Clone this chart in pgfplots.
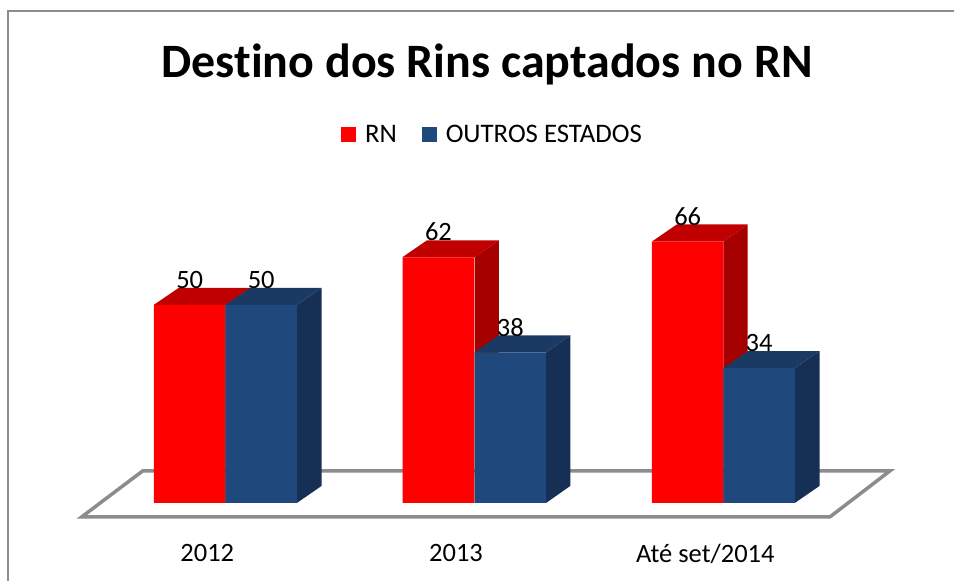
\documentclass[border=0pt]{standalone}
\usepackage{fontspec}
\setmainfont{Carlito}[Ligatures=NoCommon]
\usepackage{pgfplots}
\pgfplotsset{compat=1.18}
\definecolor{rnred}{HTML}{FF0000}
\definecolor{rntop}{HTML}{C00000}
\definecolor{rnside}{HTML}{A50000}
\definecolor{outblue}{HTML}{1F497D}
\definecolor{outtop}{HTML}{1B3A63}
\definecolor{outside}{HTML}{162F55}
\definecolor{floorgray}{HTML}{8C8C8C}

\begin{document}
\begin{tikzpicture}
\begin{axis}[
    x=1pt, y=3.965pt,
    xmin=0, xmax=955,
    ymin=-19.6, ymax=126.94,
    axis line style={draw=none},
    ytick=\empty,
    xtick={207.5,456.5,706},
    xticklabels={2012,2013,Até set/2014},
    major tick length=0pt,
    xticklabel style={font=\fontsize{26.5}{30}\selectfont, yshift=40pt},
    clip=false,
    /pgf/number format/assume math mode=true,
    title={\fontsize{48}{56}\selectfont\bfseries Destino dos Rins captados no RN},
    title style={at={(axis cs:487.5,109.1)}, anchor=center, inner sep=0pt},
    legend columns=2,
    legend style={at={(axis cs:493,92.9)}, anchor=center, draw=none, fill=none,
        inner sep=0pt, font=\fontsize{26.8}{30}\selectfont,
        /tikz/every even column/.append style={column sep=23pt}},
    legend image code/.code={\fill[#1] (0pt,-7.5pt) rectangle (15pt,7.5pt); \path (22pt,0pt);},
    legend cell align=left,
]

% floor
\addplot[fill=white, draw=floorgray, line width=3.5pt, forget plot] coordinates {
    (82,-3.5) (143,8.1) (891,8.1) (831,-3.5)
} -- cycle;

% RN sides and tops
\addplot[fill=rnside, draw=none, forget plot] coordinates {(225.7,0) (250.5,4.3) (250.5,54.3) (225.7,50)} -- cycle;
\addplot[fill=rntop, draw=none, forget plot] coordinates {(154,50) (179,54.3) (250.5,54.3) (225.7,50)} -- cycle;
\addplot[fill=rnside, draw=none, forget plot] coordinates {(475,0) (499.5,4.3) (499.5,66.3) (475,62)} -- cycle;
\addplot[fill=rntop, draw=none, forget plot] coordinates {(402.7,62) (427.5,66.3) (499.5,66.3) (475,62)} -- cycle;
\addplot[fill=rnside, draw=none, forget plot] coordinates {(724,0) (748.5,4.3) (748.5,70.3) (724,66)} -- cycle;
\addplot[fill=rntop, draw=none, forget plot] coordinates {(652.7,66) (677.5,70.3) (748.5,70.3) (724,66)} -- cycle;

% OUTROS ESTADOS sides and tops
\addplot[fill=outside, draw=none, forget plot] coordinates {(297.3,0) (322,4.3) (322,54.3) (297.3,50)} -- cycle;
\addplot[fill=outtop, draw=none, forget plot] coordinates {(225.7,50) (250.5,54.3) (322,54.3) (297.3,50)} -- cycle;
\addplot[fill=outside, draw=none, forget plot] coordinates {(546.7,0) (571,4.3) (571,42.3) (546.7,38)} -- cycle;
\addplot[fill=outtop, draw=none, forget plot] coordinates {(475,38) (499.5,42.3) (571,42.3) (546.7,38)} -- cycle;
\addplot[fill=outside, draw=none, forget plot] coordinates {(795.7,0) (820.5,4.3) (820.5,38.3) (795.7,34)} -- cycle;
\addplot[fill=outtop, draw=none, forget plot] coordinates {(724,34) (748.5,38.3) (820.5,38.3) (795.7,34)} -- cycle;

% front faces
\addplot[ybar, bar width=71.6pt, bar shift=0pt, fill=rnred, draw=none,
    nodes near coords={\pgfmathprintnumber{\pgfplotspointmeta}},
    every node near coord/.append style={font=\fontsize{26.5}{30}\selectfont, anchor=south, inner sep=0pt, yshift=16pt}]
    coordinates {(189.9,50) (438.9,62) (688.4,66)};
\addlegendentry{RN}
\addplot[ybar, bar width=71.6pt, bar shift=0pt, fill=outblue, draw=none,
    nodes near coords={\pgfmathprintnumber{\pgfplotspointmeta}},
    every node near coord/.append style={font=\fontsize{26.5}{30}\selectfont, anchor=south, inner sep=0pt, yshift=16pt}]
    coordinates {(261.5,50) (510.9,38) (759.9,34)};
\addlegendentry{OUTROS ESTADOS}

% chart frame
\draw[floorgray, line width=2pt] (axis cs:8,-19.6) -- (axis cs:8,124.2) -- (axis cs:955,124.2);
\end{axis}
\end{tikzpicture}
\end{document}
